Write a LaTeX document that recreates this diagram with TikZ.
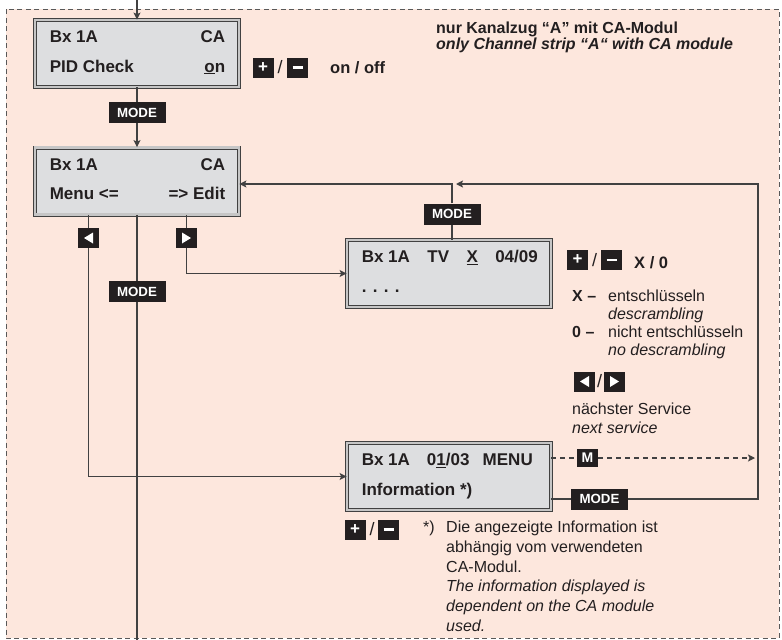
\documentclass[tikz,border=0pt]{standalone}
\usepackage{fontspec}
\setmainfont{Liberation Sans}
\usetikzlibrary{arrows.meta,positioning}
\definecolor{peach}{RGB}{253,231,221}
\definecolor{lcdgray}{RGB}{221,222,224}
\definecolor{keyblack}{RGB}{35,31,32}
\definecolor{wire}{RGB}{65,65,65}

\begin{document}
\begin{tikzpicture}[x=1pt, y=-1pt,
    every node/.style={inner sep=0pt, text=keyblack},
    frame/.style={draw=black!65, line width=0.9pt, dash pattern=on 5pt off 3.5pt, fill=peach},
    lcd/.style={draw=wire, line width=0.8pt, double=gray!45, double distance=2.4pt, fill=lcdgray,
        minimum width=204pt, minimum height=67pt},
    lcdtext/.style={font=\fontsize{17}{20}\selectfont\bfseries},
    key/.style={fill=keyblack, text=white, minimum width=21pt, minimum height=20pt,
        font=\fontsize{17}{20}\selectfont\bfseries},
    modekey/.style={key, minimum width=57pt, minimum height=21pt, font=\fontsize{13.3}{15}\selectfont\bfseries},
    keyleft/.style={key, path picture={\fill[white] ([xshift=-4.5pt]path picture bounding box.center)
        -- ++(9pt,5.5pt) -- ++(0pt,-11pt) -- cycle;}},
    keyright/.style={key, path picture={\fill[white] ([xshift=4.5pt]path picture bounding box.center)
        -- ++(-9pt,5.5pt) -- ++(0pt,-11pt) -- cycle;}},
    slash/.style={font=\fontsize{18}{20}\selectfont},
    wire/.style={draw=wire, line width=1.2pt},
    arr/.style={wire, -{Stealth[length=7pt, width=7pt, inset=1.5pt]}}]

\fill[white] (0,0) rectangle (782,640);
\useasboundingbox (0,0) rectangle (782,640);
\draw[frame] (6,9) rectangle (779,638);

% displays
\node[lcd] (pid) at (137,53.5) {};
\node[lcdtext, anchor=base west] (pidL1) at ([xshift=15pt, yshift=-23pt]pid.north west) {Bx 1A};
\node[lcdtext, anchor=base east] (pidR1) at ([xshift=-14pt, yshift=-23pt]pid.north east) {CA};
\node[lcdtext, anchor=base west] (pidL2) at ([xshift=15pt, yshift=-52.5pt]pid.north west) {PID Check};
\node[lcdtext, anchor=base east] (pidR2) at ([xshift=-14pt, yshift=-52.5pt]pid.north east) {\underline{o}n};

\node[lcd] (menu) at (137,181) {};
\node[lcdtext, anchor=base west] (menuL1) at ([xshift=15pt, yshift=-23pt]menu.north west) {Bx 1A};
\node[lcdtext, anchor=base east] (menuR1) at ([xshift=-14pt, yshift=-23pt]menu.north east) {CA};
\node[lcdtext, anchor=base west] (menuL2) at ([xshift=15pt, yshift=-52.5pt]menu.north west) {Menu <=};
\node[lcdtext, anchor=base east] (menuR2) at ([xshift=-14pt, yshift=-52.5pt]menu.north east) {=> Edit};

\node[lcd] (tv) at (449,273.5) {};
\node[lcdtext, anchor=base west] (tvL1) at ([xshift=15pt, yshift=-23pt]tv.north west)
    {\makebox[176pt][l]{Bx 1A\hfill TV\hfill \underline{X}\hfill 04/09}};
\node[lcdtext, anchor=base west] (tvL2) at ([xshift=15pt, yshift=-52.5pt]tv.north west) {. . . .};

\node[lcd] (info) at (449,476.5) {};
\node[lcdtext, anchor=base west] (infoL1) at ([xshift=15pt, yshift=-23pt]info.north west)
    {\makebox[171pt][l]{Bx 1A\hspace{17pt}0\underline{1}/03\hfill MENU}};
\node[lcdtext, anchor=base west] (infoL2) at ([xshift=15pt, yshift=-52.5pt]info.north west) {Information *)};

% keys
\node[modekey] (modeA) at (137,112.5) {MODE};
\node[modekey] (modeB) at (452,214) {MODE};
\node[modekey] (modeC) at (599.5,499) {MODE};
\node[modekey] (modeD) at (137,291.5) {MODE};
\node[keyleft] (keyLeft) at (88.5,238) {};
\node[keyright] (keyRight) at (186.5,238) {};
\node[key, minimum height=18pt, font=\fontsize{14}{16}\selectfont\bfseries] (keyM) at (587.5,458) {M};

\node[key] (plusA) at (263,67.5) {+};
\node[slash] (slashA) at (280,67.5) {/};
\node[key] (minusA) at (297.5,67.5) {\rule{10pt}{2.8pt}};
\node[font=\fontsize{16.5}{20}\selectfont\bfseries, anchor=base west] (onoff) at (330,73) {on / off};

\node[key] (plusB) at (577.5,260) {+};
\node[slash] (slashB) at (594.5,260) {/};
\node[key] (minusB) at (611.5,260) {\rule{10pt}{2.8pt}};
\node[font=\fontsize{16.5}{20}\selectfont\bfseries, anchor=base west] (xzero) at (634,268) {X / 0};

\node[keyleft] (prevB) at (584.5,381.5) {};
\node[slash] (slashC) at (599.5,381.5) {/};
\node[keyright] (nextB) at (614.5,381.5) {};

\node[key] (plusC) at (355,529.5) {+};
\node[slash] (slashD) at (372,529.5) {/};
\node[key] (minusC) at (388.5,529.5) {\rule{10pt}{2.8pt}};

% texts
\node[font=\fontsize{16}{16}\selectfont\bfseries, anchor=north west] (title) at (436,21.8)
    {\begin{tabular}{@{}l@{}}nur Kanalzug “A” mit CA-Modul\\ \itshape only Channel strip “A“ with CA module\end{tabular}};
\node[font=\fontsize{16}{18}\selectfont, anchor=north west] (legend) at (572,288.4)
    {\begin{tabular}{@{}l@{}l@{}}
    \makebox[36pt][l]{\bfseries X –} & entschlüsseln\\
     & \itshape descrambling\\
    \makebox[36pt][l]{\bfseries 0 –} & nicht entschlüsseln\\
     & \itshape no descrambling
    \end{tabular}};
\node[font=\fontsize{16}{19}\selectfont, anchor=north west] (service) at (572,400.7)
    {\begin{tabular}{@{}l@{}}nächster Service\\ \itshape next service\end{tabular}};
\node[font=\fontsize{16}{19.7}\selectfont, anchor=base west] (star) at (423,532.5) {*)};
\node[font=\fontsize{16}{19.7}\selectfont, anchor=north west] (footnote) at (446,518.7)
    {\begin{tabular}{@{}l@{}}Die angezeigte Information ist\\ abhängig vom verwendeten\\ CA-Modul.\\
    \itshape The information displayed is\\ \itshape dependent on the CA module\\ \itshape used.\end{tabular}};

% connectors
\coordinate (entry) at (137,0);
\coordinate (exit) at (137,640);
\coordinate (rtop) at (758,184);
\coordinate (mtip) at (755,458);

\draw[arr] (entry) -- (pid);
\draw[wire] (pid) -- (modeA);
\draw[arr] (modeA) -- (menu);
\draw[wire] (menu) -- (modeD);
\draw[wire] (modeD) -- (exit);
\draw[wire] (keyLeft |- menu.south) -- (keyLeft);
\draw[arr] (keyLeft) |- (info);
\draw[wire] (keyRight |- menu.south) -- (keyRight);
\draw[arr] (keyRight) |- (tv);
\draw[wire] (modeB |- tv.north) -- (modeB);
\draw[arr] (modeB) |- ([yshift=-3pt]menu.east);
\draw[wire] ([yshift=-22.5pt]info.east) -- (modeC);
\draw[arr] (modeC) -| (rtop) -- ([xshift=4pt]modeB |- rtop);
\draw[wire, dash pattern=on 5pt off 4pt] ([yshift=18.5pt]info.east) -- (keyM);
\draw[arr, dash pattern=on 5pt off 4pt] (keyM) -- (mtip);
\end{tikzpicture}
\end{document}
